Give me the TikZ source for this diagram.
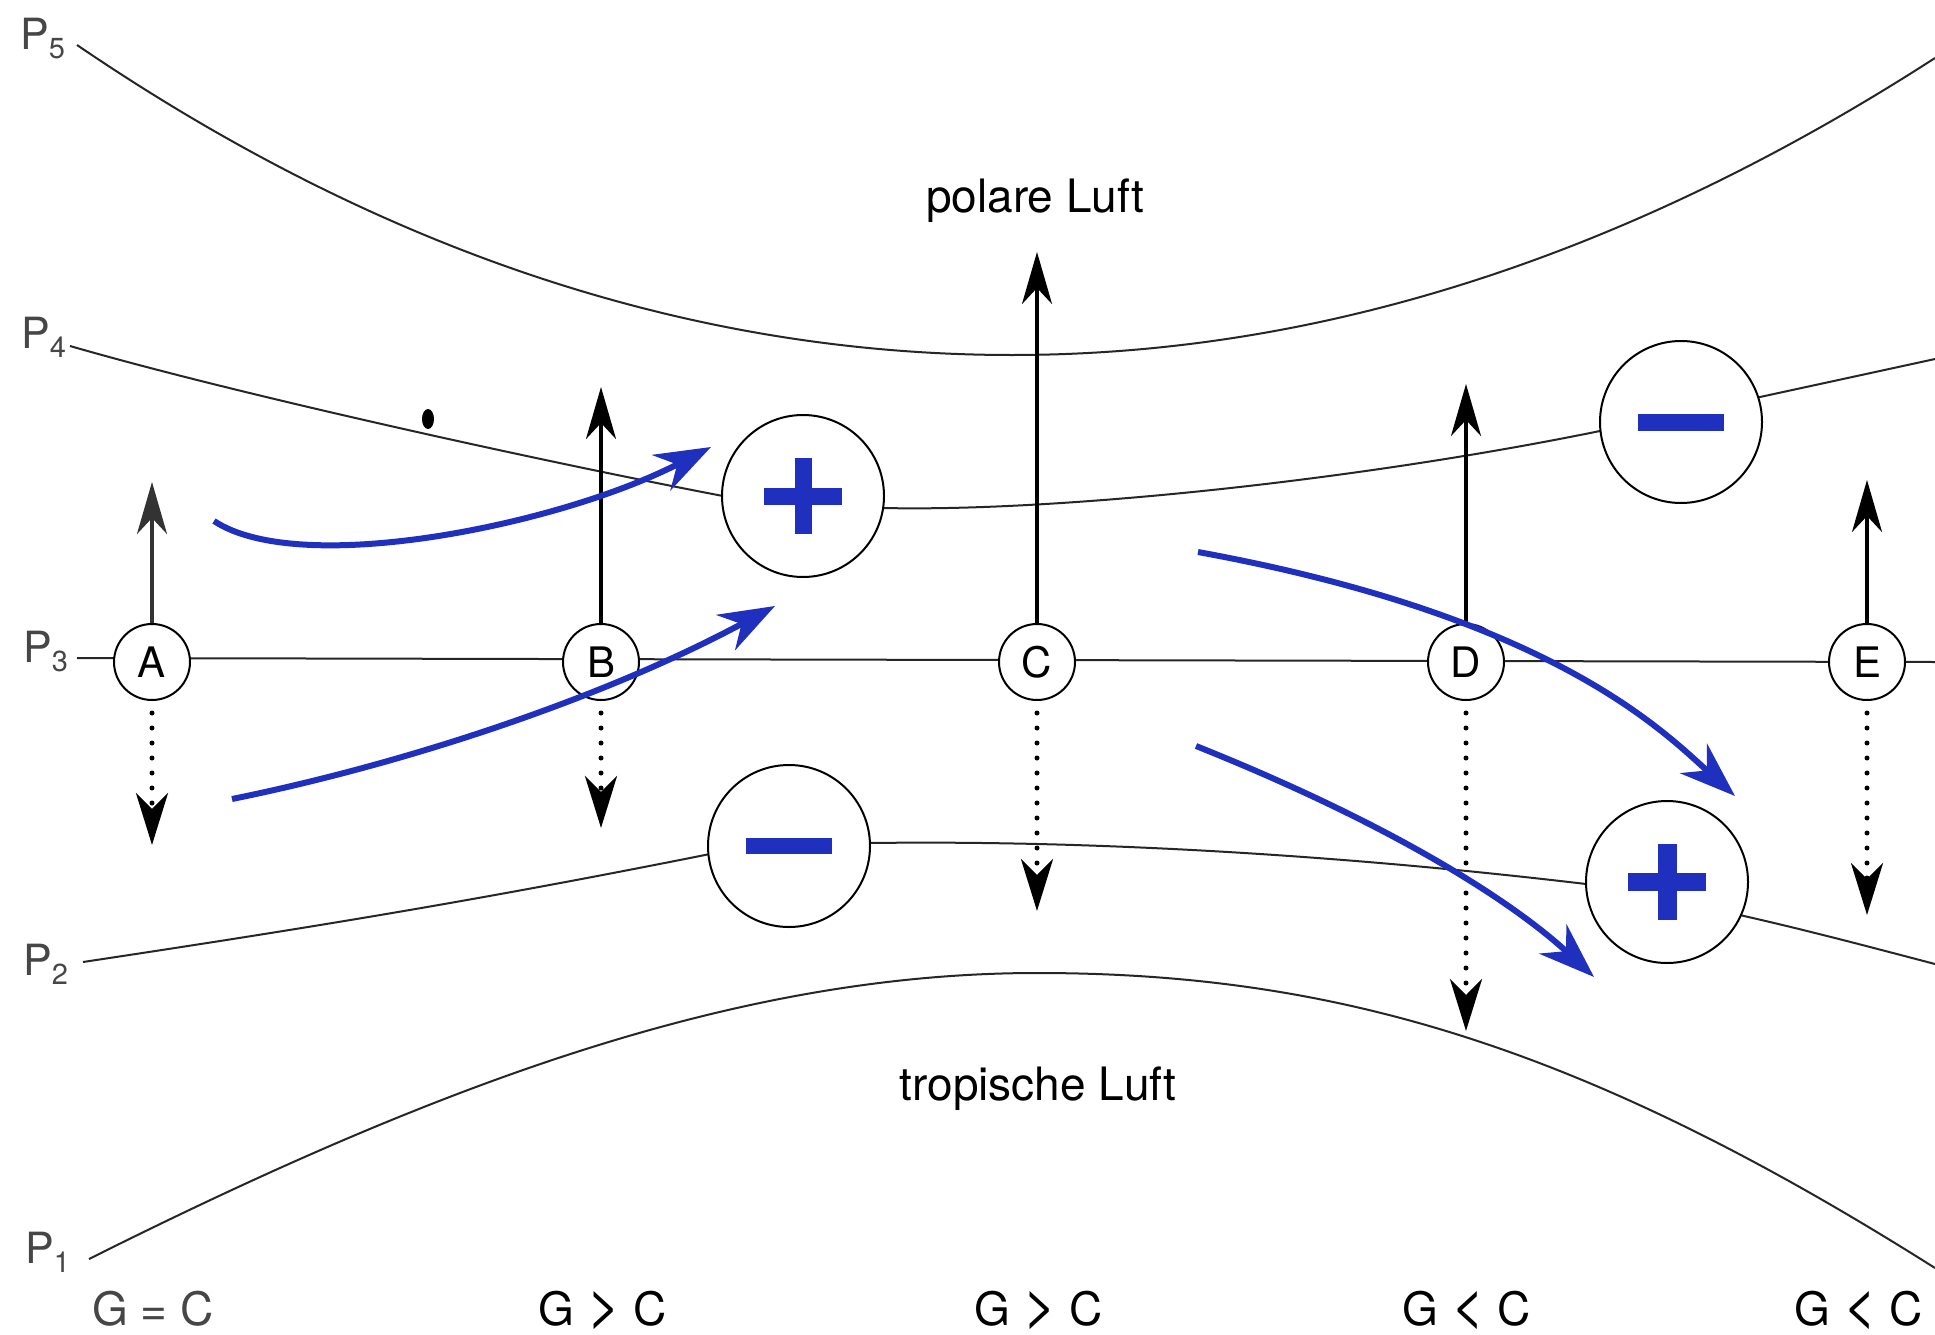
\documentclass[tikz,border=0pt]{standalone}
\usepackage{fontspec}
\setmainfont{TeX Gyre Heros}
\usetikzlibrary{arrows.meta}
\definecolor{flowblue}{RGB}{32,48,190}
\definecolor{labgray}{RGB}{70,70,70}
\newcommand{\bigrel}[1]{\scalebox{1.25}[1.3]{#1}}
\begin{document}
\begin{tikzpicture}[x=1pt,y=-1pt,
  isobar/.style={line width=2pt, black!85},
  station/.style={circle, draw, line width=2pt, fill=white, minimum size=76pt, inner sep=0pt, font=\fontsize{42}{48}\selectfont},
  signcirc/.style={circle, draw, line width=2pt, fill=white, minimum size=162pt, inner sep=0pt},
  uparrow/.style={line width=3.5pt, -{Stealth[length=52pt,width=30pt,inset=16pt]}},
  downarrow/.style={line width=5pt, line cap=round, dash pattern=on 0pt off 15pt, -{Stealth[length=52pt,width=32pt,inset=16pt]}},
  flow/.style={line width=6pt, flowblue, -{Stealth[length=56pt,width=40pt,inset=18pt]}},
  plab/.style={anchor=base west, text=labgray, font=\fontsize{43}{48}\selectfont, inner sep=0pt},
  glab/.style={anchor=base, font=\fontsize{46}{52}\selectfont, inner sep=0pt},
  airlab/.style={anchor=base, font=\fontsize{46}{52}\selectfont, inner sep=0pt}
]
\useasboundingbox (0,0) rectangle (1935,1335);
\fill[white] (0,0) rectangle (1935,1335);

% isobars
% P5
\draw[isobar] (77,45) .. controls (381,252) and (693,355) .. (1012,355)
                      .. controls (1320,355) and (1628,256) .. (1935,58);
% P4
\draw[isobar] (70,346) .. controls (243,396) and (550,463) .. (723,496) -- (770,503);
\draw[isobar] (840,506) -- (883,508) .. controls (1060,512) and (1360,480) .. (1600,431) -- (1640,423);
\draw[isobar] (1720,405) -- (1760,397) .. controls (1820,384) and (1880,371) .. (1935,359);
% P3
\draw[isobar] (77,658) -- (1935,662);
% P2
\draw[isobar] (83,962) .. controls (315,927) and (480,900) .. (710,854) -- (750,848);
\draw[isobar] (830,844) -- (870,843) .. controls (1100,840) and (1350,856) .. (1586,884) -- (1620,890);
\draw[isobar] (1715,909) -- (1744,916) .. controls (1810,931) and (1870,947) .. (1935,964);
% P1
\draw[isobar] (89,1259) .. controls (439,1084) and (737,973) .. (1037,973)
                        .. controls (1337,973) and (1585,1047) .. (1935,1268);

% stations
\node[station] (A) at (152,662) {A};
\node[station] (B) at (601,662) {B};
\node[station] (C) at (1037,662) {C};
\node[station] (D) at (1466,662) {D};
\node[station] (E) at (1867,662) {E};

% sign circles
\node[signcirc] (pl1) at (803,496) {};
\node[signcirc] (mi1) at (1681,422) {};
\node[signcirc] (pl2) at (1667,882) {};
\node[signcirc] (mi2) at (789,846) {};
\fill[flowblue] (pl1.center) ++(-39,-8.5) rectangle ++(78,17);
\fill[flowblue] (pl1.center) ++(-8.5,-38) rectangle ++(17,76);
\fill[flowblue] (pl2.center) ++(-39,-9) rectangle ++(78,18);
\fill[flowblue] (pl2.center) ++(-9.5,-38) rectangle ++(19,76);
\fill[flowblue] (mi1.center) ++(-43,-8.5) rectangle ++(86,17);
\fill[flowblue] (mi2.center) ++(-43,-8) rectangle ++(86,16);

% vertical arrows
\coordinate (Aup) at (152,482);
\coordinate (Bup) at (601,387);
\coordinate (Cup) at (1037,252);
\coordinate (Dup) at (1466,384);
\coordinate (Eup) at (1867,480);
\coordinate (Adn) at (152,845);
\coordinate (Bdn) at (601,828);
\coordinate (Cdn) at (1037,911);
\coordinate (Ddn) at (1466,1031);
\coordinate (Edn) at (1867,915);
\draw[uparrow, black!80] (A.north) -- (Aup);
\draw[uparrow] (B.north) -- (Bup);
\draw[uparrow] (C.north) -- (Cup);
\draw[uparrow] (D.north) -- (Dup);
\draw[uparrow] (E.north) -- (Eup);
\draw[downarrow] ([yshift=-12pt]A.south) -- (Adn);
\draw[downarrow] ([yshift=-12pt]B.south) -- (Bdn);
\draw[downarrow] ([yshift=-12pt]C.south) -- (Cdn);
\draw[downarrow] ([yshift=-12pt]D.south) -- (Ddn);
\draw[downarrow] ([yshift=-12pt]E.south) -- (Edn);

% speck
\fill (428,419) ellipse [x radius=6pt, y radius=10pt];

% blue flows
\coordinate (f1s) at (214,521); \coordinate (f1e) at (711,447);
\coordinate (f2s) at (232,799); \coordinate (f2e) at (775,606);
\coordinate (f3s) at (1198,552); \coordinate (f3e) at (1735,796);
\coordinate (f4s) at (1196,746); \coordinate (f4e) at (1594,977);
\draw[flow] (f1s) .. controls (300,578) and (560,525) .. (f1e);
\draw[flow] (f2s) .. controls (400,765) and (600,700) .. (f2e);
\draw[flow] (f3s) .. controls (1548,616) and (1660,728) .. (f3e);
\draw[flow] (f4s) .. controls (1396,826) and (1514,903) .. (f4e);

% labels
\node[plab] (p5) at (20,50) {P\raisebox{-9pt}{\fontsize{29}{30}\selectfont 5}};
\node[plab] (p4) at (21,348) {P\raisebox{-9pt}{\fontsize{29}{30}\selectfont 4}};
\node[plab] (p3) at (23,662) {P\raisebox{-9pt}{\fontsize{29}{30}\selectfont 3}};
\node[plab] (p2) at (23,975) {P\raisebox{-9pt}{\fontsize{29}{30}\selectfont 2}};
\node[plab] (p1) at (25,1263) {P\raisebox{-9pt}{\fontsize{29}{30}\selectfont 1}};

\node[airlab] (polar) at (1035,212) {polare Luft};
\node[airlab] (trop) at (1038,1100) {tropische Luft};

\node[glab, text=labgray] (gA) at (153,1325) {G = C};
\node[glab] (gB) at (603,1325) {G \bigrel{>} C};
\node[glab] (gC) at (1039,1325) {G \bigrel{>} C};
\node[glab] (gD) at (1467,1325) {G \bigrel{<} C};
\node[glab] (gE) at (1859,1325) {G \bigrel{<} C};
\end{tikzpicture}
\end{document}
